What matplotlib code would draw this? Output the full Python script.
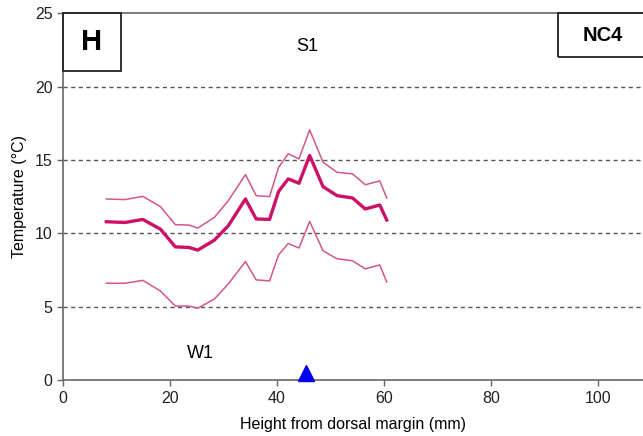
import matplotlib
matplotlib.use('Agg')
import matplotlib.pyplot as plt
from matplotlib.patches import Rectangle

plt.rcParams['font.family'] = ['Liberation Sans', 'DejaVu Sans']

# height from dorsal margin (mm)
height = [8.1, 11.6, 14.9, 18.2, 21.0, 23.5, 25.2, 28.3, 30.9, 34.1, 36.1,
          38.6, 40.3, 42.1, 44.1, 46.1, 48.6, 51.2, 54.1, 56.5, 59.2, 60.5]
# temperature (deg C)
t_mean = [10.79, 10.74, 10.95, 10.29, 9.08, 9.04, 8.86, 9.54, 10.52, 12.34, 10.98,
          10.95, 12.86, 13.71, 13.41, 15.3, 13.18, 12.57, 12.41, 11.66, 11.93, 10.91]
t_upper = [12.34, 12.30, 12.52, 11.82, 10.59, 10.57, 10.36, 11.09, 12.23, 14.0, 12.57,
           12.50, 14.5, 15.42, 15.07, 17.05, 14.84, 14.16, 14.05, 13.31, 13.57, 12.41]
t_lower = [6.6, 6.6, 6.8, 6.08, 5.05, 5.05, 4.9, 5.53, 6.56, 8.08, 6.83,
           6.76, 8.54, 9.31, 9.0, 10.81, 8.81, 8.27, 8.13, 7.58, 7.85, 6.69]
marker_x = 45.5

fig = plt.figure(figsize=(6.43, 4.36), dpi=100)
ax = fig.add_axes([0.098, 0.128, 0.902, 0.842])

for y in [5, 10, 15, 20]:
    ax.axhline(y, color='#555555', lw=1, ls=(0, (3, 2.5)), zorder=1)

ax.plot(height, t_upper, color='#D4558A', lw=1.1, zorder=3)
ax.plot(height, t_lower, color='#D4558A', lw=1.1, zorder=3)
ax.plot(height, t_mean, color='#CC1166', lw=2.4, zorder=4)
ax.plot([marker_x], [0.5], marker='^', color='#0000EE', ms=11, ls='none',
        clip_on=False, zorder=5)

ax.set_xlim(0, 108.4)
ax.set_ylim(0, 25)
ax.set_xticks([0, 20, 40, 60, 80, 100])
ax.set_yticks([0, 5, 10, 15, 20, 25])
ax.tick_params(labelsize=11.5, length=4, width=1, direction='out',
               colors='#666666', labelcolor='#222222')
for s in ['left', 'bottom', 'top']:
    ax.spines[s].set_color('#666666')
    ax.spines[s].set_linewidth(1.2)
ax.spines['right'].set_visible(False)

ax.set_xlabel('Height from dorsal margin (mm)', fontsize=11.5, labelpad=8)
ax.set_ylabel('Temperature (°C)', fontsize=11.5, labelpad=6)

ax.add_patch(Rectangle((0.0, 0.842), 0.1, 0.158, transform=ax.transAxes,
                       fill=False, ec='#222222', lw=1.3, clip_on=False, zorder=6))
ax.text(0.05, 0.921, 'H', transform=ax.transAxes, ha='center', va='center',
        fontsize=21, fontweight='bold')
ax.add_patch(Rectangle((0.853, 0.880), 0.16, 0.12, transform=ax.transAxes,
                       fill=False, ec='#222222', lw=1.3, clip_on=False, zorder=6))
ax.text(0.93, 0.94, 'NC4', transform=ax.transAxes, ha='center', va='center',
        fontsize=14.5, fontweight='bold')

ax.text(45.7, 22.75, 'S1', ha='center', va='center', fontsize=13)
ax.text(25.6, 1.8, 'W1', ha='center', va='center', fontsize=13)

fig.savefig('out.png', dpi=100)
